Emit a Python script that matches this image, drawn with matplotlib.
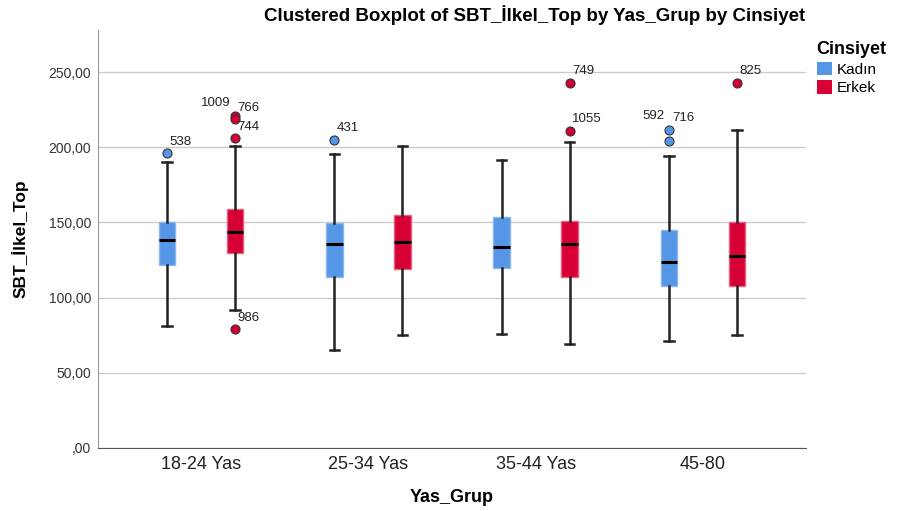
import numpy as np
import matplotlib.pyplot as plt
from matplotlib.patches import Patch

plt.rcParams['font.family'] = ['Liberation Sans', 'DejaVu Sans']

# age groups and per-sex box statistics
groups = ['18-24 Yas', '25-34 Yas', '35-44 Yas', '45-80']
sexes = ['Kadın', 'Erkek']

kadin_lo = [81, 65, 76, 71]
kadin_q1 = [122, 114, 119.5, 108]
kadin_med = [138, 135.5, 133.5, 124]
kadin_q3 = [150, 149.5, 153.5, 145]
kadin_hi = [190, 195.5, 191.5, 194]

erkek_lo = [92, 75, 69, 75]
erkek_q1 = [130, 119, 114, 108]
erkek_med = [143.5, 137, 136, 128]
erkek_q3 = [159, 155, 151, 150.5]
erkek_hi = [201, 201, 203.5, 211.5]

# outliers: (group index, sex index, value, case number)
outliers = [
    (0, 0, 196, '538'),
    (0, 1, 221, '1009'),
    (0, 1, 218.5, '766'),
    (0, 1, 206, '744'),
    (0, 1, 79, '986'),
    (1, 0, 205, '431'),
    (2, 1, 243, '749'),
    (2, 1, 211, '1055'),
    (3, 0, 211.5, '716'),
    (3, 0, 204.5, '592'),
    (3, 1, 243, '825'),
]

colors = ['#5596E6', '#D70035']
edge_colors = ['#8DB8EE', '#E8607F']

fig = plt.figure(figsize=(9.03, 5.11), dpi=100)
ax = fig.add_axes([0.1085, 0.1233, 0.7841, 0.818])

offset = 0.203
x = np.arange(len(groups))

stats_by_sex = [
    (kadin_lo, kadin_q1, kadin_med, kadin_q3, kadin_hi),
    (erkek_lo, erkek_q1, erkek_med, erkek_q3, erkek_hi),
]

for s, (lo, q1, med, q3, hi) in enumerate(stats_by_sex):
    stats = []
    for g in range(len(groups)):
        fl = [o[2] for o in outliers if o[0] == g and o[1] == s]
        stats.append(dict(whislo=lo[g], q1=q1[g], med=med[g], q3=q3[g],
                          whishi=hi[g], fliers=fl))
    pos = x + (offset if s else -offset)
    ax.bxp(stats, positions=pos, widths=0.1, capwidths=0.055,
           patch_artist=True, manage_ticks=False,
           boxprops=dict(facecolor=colors[s], edgecolor=edge_colors[s], lw=1),
           medianprops=dict(color='black', lw=2.2),
           whiskerprops=dict(color='#222222', lw=1.8),
           capprops=dict(color='#222222', lw=1.8),
           flierprops=dict(marker='o', markerfacecolor=colors[s],
                           markeredgecolor='#333333', markersize=6.5,
                           markeredgewidth=0.8),
           zorder=3)

# case-number labels next to the outliers
left_labels = {'1009': (-3, 5), '592': (-3, 13)}
for g, s, v, case in outliers:
    px = x[g] + (offset if s else -offset)
    if case in left_labels:
        ax.annotate(case, (px, v), xytext=left_labels[case],
                    textcoords='offset points', ha='right', va='bottom',
                    fontsize=9.5, color='#222222')
    else:
        ax.annotate(case, (px, v), xytext=(2, 4),
                    textcoords='offset points', ha='left', va='bottom',
                    fontsize=9.5, color='#222222')

ax.set_xlim(-0.615, 3.615)
ax.set_ylim(0, 278)
yt = np.arange(0, 251, 50)
ax.set_yticks(yt)
ax.set_yticklabels([('%.2f' % v).replace('.', ',').lstrip('0') if v == 0
                    else ('%.2f' % v).replace('.', ',') for v in yt],
                   fontsize=10, color='#333333')
ax.set_xticks(x)
ax.set_xticklabels(groups, fontsize=13, color='#222222')
ax.tick_params(axis='y', length=0, pad=5)
ax.tick_params(axis='x', length=0, pad=6)
ax.yaxis.grid(True, color='#cccccc', lw=1)
ax.set_axisbelow(True)
for side in ['top', 'right']:
    ax.spines[side].set_visible(False)
ax.spines['left'].set_color('#999999')
ax.spines['bottom'].set_color('#555555')

ax.set_xlabel('Yas_Grup', fontsize=13, fontweight='bold', labelpad=11)
ax.set_ylabel('SBT_İlkel_Top', fontsize=12.5, fontweight='bold', labelpad=14)
fig.text(0.592, 0.97, 'Clustered Boxplot of SBT_İlkel_Top by Yas_Grup by Cinsiyet',
         ha='center', va='center', fontsize=13.5, fontweight='bold')

handles = [Patch(facecolor=c, edgecolor='none') for c in colors]
leg = ax.legend(handles, sexes, title='Cinsiyet', loc='upper left',
                bbox_to_anchor=(1.0, 1.0), frameon=False, fontsize=11,
                handlelength=1.0, handleheight=1.0, handletextpad=0.3,
                labelspacing=0.25, borderaxespad=0.3)
leg.get_title().set_fontweight('bold')
leg.get_title().set_fontsize(13)
leg._legend_box.align = 'left'

fig.savefig('out.png', dpi=100)
